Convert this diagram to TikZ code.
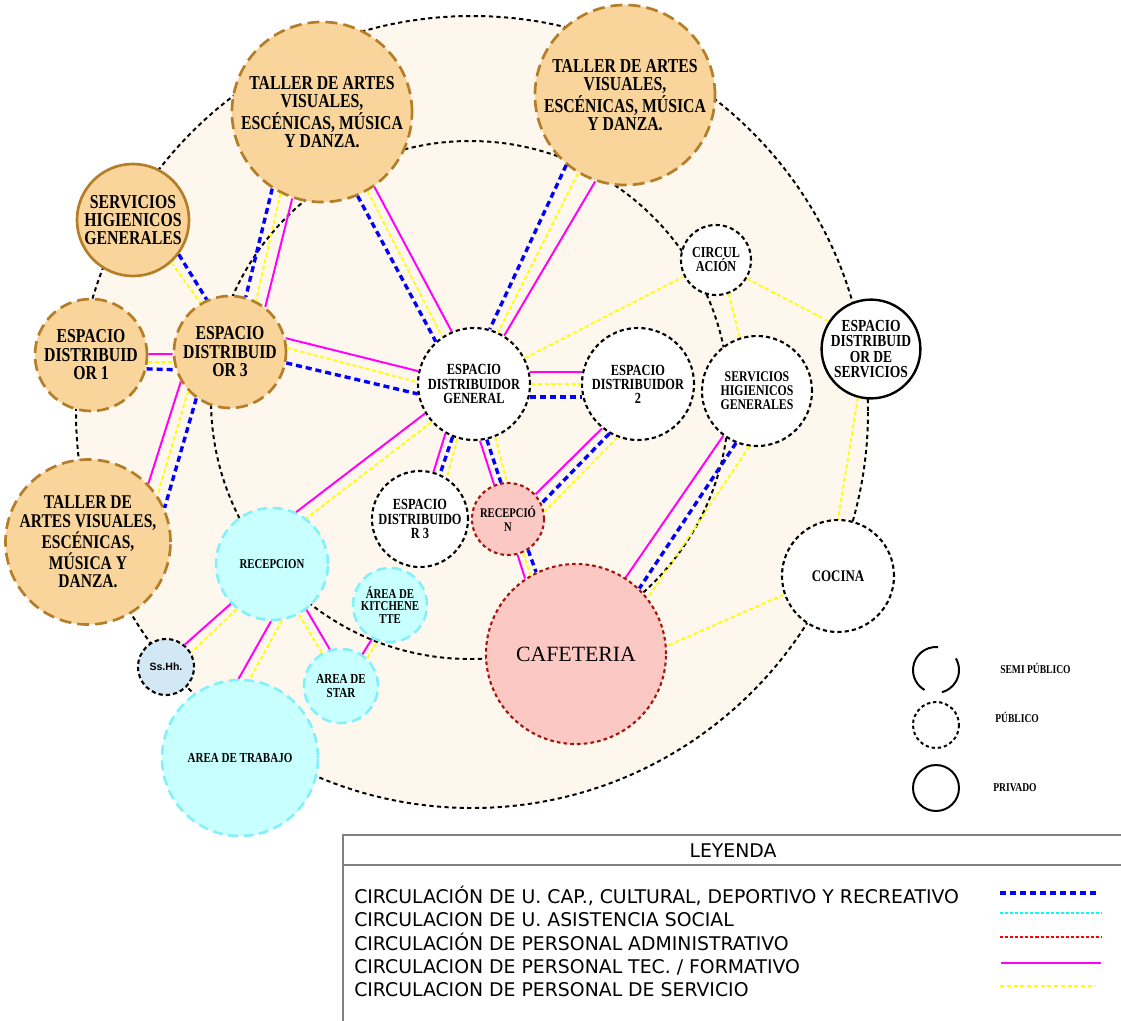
\documentclass[tikz,border=0pt]{standalone}
\usepackage{fontspec}
\setmainfont{Liberation Serif}
\newfontfamily\roomfont[FakeStretch=0.8]{Liberation Serif}
\newfontfamily\legfont{DejaVu Sans}
\newfontfamily\sshfont{Liberation Sans}
\usepackage{tikz}

\definecolor{cream}{RGB}{254,247,237}
\definecolor{peach}{RGB}{250,213,155}
\definecolor{peachline}{RGB}{180,125,40}
\definecolor{aqua}{RGB}{200,255,255}
\definecolor{aqualine}{RGB}{128,240,250}
\definecolor{rose}{RGB}{252,200,196}
\definecolor{roseline}{RGB}{165,20,10}
\definecolor{skyfill}{RGB}{210,232,245}
\definecolor{ucapblue}{RGB}{0,0,255}
\definecolor{tecpink}{RGB}{255,0,255}
\definecolor{servyellow}{RGB}{255,255,0}
\definecolor{asiscyan}{RGB}{0,255,255}
\definecolor{admred}{RGB}{255,0,0}

\tikzset{
  room/.style={circle, inner sep=0pt, align=center, minimum size=#1*0.05cm},
  txt/.style 2 args={font=\roomfont\bfseries\fontsize{#1}{#2}\selectfont},
  taller/.style={room=#1, fill=peach, draw=peachline, line width=1.9pt, dash pattern=on 8.5pt off 4.3pt},
  higien/.style={room=#1, fill=peach, draw=peachline, line width=1.9pt},
  blanco/.style={room=#1, fill=white, draw=black, line width=1.5pt, dash pattern=on 3pt off 2.2pt},
  privado/.style={room=#1, fill=white, draw=black, line width=1.7pt},
  asisc/.style={room=#1, fill=aqua, draw=aqualine, line width=1.8pt, dash pattern=on 7pt off 4pt},
  admc/.style={room=#1, fill=rose, draw=roseline, line width=1.5pt, dash pattern=on 2.6pt off 2.2pt},
  ring/.style={draw=black, line width=1.4pt, dash pattern=on 3pt off 2.4pt},
  lucap/.style={draw=ucapblue, line width=2.4pt, dash pattern=on 4.3pt off 2.8pt},
  lserv/.style={draw=servyellow, line width=1.3pt, dash pattern=on 3pt off 1.8pt},
  ltec/.style={draw=tecpink, line width=1.4pt},
  lasis/.style={draw=asiscyan, line width=1.4pt, dash pattern=on 2.2pt off 1.4pt},
  ladm/.style={draw=admred, line width=1.4pt, dash pattern=on 2.2pt off 1.4pt},
  legtxt/.style={font=\legfont\fontsize{13.4}{15}\selectfont, inner sep=0pt},
  simb/.style={font=\roomfont\bfseries\fontsize{8.5}{10}\selectfont, inner sep=0pt, anchor=base west}
}

\begin{document}
\begin{tikzpicture}[x=0.025cm,y=-0.025cm]
\useasboundingbox (0,0) rectangle (1121,1021);

% rings
\fill[cream] (472,412) circle (396);
\draw[ring] (472,412) circle (396);
\draw[ring] (470,400) circle (259);

% talleres y espacios
\node[taller=90, txt={14}{13.2}] (t1) at (322,112) {TALLER DE ARTES\\VISUALES,\\ESCÉNICAS, MÚSICA\\Y DANZA.};
\node[taller=90, txt={14}{13.2}] (t2) at (625,95) {TALLER DE ARTES\\VISUALES,\\ESCÉNICAS, MÚSICA\\Y DANZA.};
\node[taller=79, txt={13.8}{13.2}] (t3) at (88,542) {TALLER DE\\ARTES VISUALES,\\ESCÉNICAS,\\MÚSICA Y\\DANZA.};
\node[higien=56, txt={14}{13}] (shg1) at (133,220) {SERVICIOS\\HIGIENICOS\\GENERALES};
\node[taller=56, txt={14}{13.2}] (ed1) at (91,355) {ESPACIO\\DISTRIBUID\\OR 1};
\node[taller=56, txt={14}{13.2}] (ed3) at (230,352) {ESPACIO\\DISTRIBUID\\OR 3};

\node[blanco=56, txt={11}{10}] (edg) at (474,384) {ESPACIO\\DISTRIBUIDOR\\GENERAL};
\node[blanco=56, txt={11}{10}] (ed2) at (638,384) {ESPACIO\\DISTRIBUIDOR\\2};
\node[blanco=55, txt={10.5}{10}] (shg2) at (757,391) {SERVICIOS\\HIGIENICOS\\GENERALES};
\node[blanco=35, txt={10.8}{10}] (circ) at (716,260) {CIRCUL\\ACIÓN};
\node[privado=49, txt={12}{11}] (eds) at (871,349) {ESPACIO\\DISTRIBUID\\OR DE\\SERVICIOS};
\node[blanco=48, txt={11}{10}] (edr3) at (420,519) {ESPACIO\\DISTRIBUIDO\\R 3};
\node[blanco=56, txt={11.5}{12}] (coc) at (838,576) {COCINA};

\node[admc=36, txt={9.4}{10}] (rn) at (508,519) {RECEPCIÓ\\N};
\node[admc=90, font=\fontsize{15.5}{18}\selectfont] (caf) at (576,654) {CAFETERIA};

\node[asisc=56, txt={9.6}{10}] (rec) at (272,564) {RECEPCION};
\node[asisc=78, txt={9.8}{10}] (trab) at (240,758) {AREA DE TRABAJO};
\node[asisc=37, txt={9.8}{9.3}] (star) at (341,686) {AREA DE\\STAR};
\node[asisc=37, txt={9.6}{8.9}] (kit) at (390,605) {ÁREA DE\\KITCHENE\\TTE};
\node[room=28, fill=skyfill, draw=black, line width=1.5pt, dash pattern=on 3pt off 2.2pt,
      font=\sshfont\bfseries\fontsize{7.5}{9}\selectfont] (sshh) at (166,667) {Ss.Hh.};

% circulaciones
\draw[lucap] (t1.237) -- (ed3.74);
\draw[lserv] (t1.243) -- (ed3.63);
\draw[ltec] (t1.251) -- (ed3.52);

\draw[lucap] (t1.293) -- (edg.132);
\draw[lserv] (t1.300) -- (edg.124);
\draw[ltec] (t1.305) -- (edg.113);

\draw[lucap] (t2.230) -- (edg.74);
\draw[lserv] (t2.239) -- (edg.65);
\draw[ltec] (t2.251) -- (edg.58);

\draw[ltec] (ed3.14) -- (edg.167);
\draw[lserv] (ed3.4) -- (edg.178);
\draw[lucap] (ed3.349) -- (edg.190);

\draw[lserv] (shg1.312) -- (ed3.121);
\draw[lucap] (shg1.323) -- (ed3.114);

\draw[ltec] (ed1.1) -- (ed3.182);
\draw[lserv] (ed1.353) -- (ed3.190);
\draw[lucap] (ed1.346) -- (ed3.198);

\draw[ltec] (ed3.211) -- (t3.44);
\draw[lserv] (ed3.223) -- (t3.34);
\draw[lucap] (ed3.234) -- (t3.24);

\draw[ltec] (edg.12) -- (ed2.168);
\draw[lserv] (edg.0) -- (ed2.180);
\draw[lucap] (edg.347) -- (ed2.193);

\draw[ltec] (edg.240) -- (edr3.74);
\draw[lucap] (edg.248) -- (edr3.66);
\draw[lserv] (edg.253) -- (edr3.57);

\draw[ltec] (edg.276) -- (rn.112);
\draw[lucap] (edg.283) -- (rn.101);
\draw[lserv] (edg.292) -- (rn.92);

\draw[ltec] (ed2.231) -- (rn.42);
\draw[lucap] (ed2.240) -- (rn.25);
\draw[lserv] (ed2.249) -- (rn.11);

\draw[ltec] (rn.285) -- (caf.124);
\draw[lserv] (rn.294) -- (caf.120);
\draw[lucap] (rn.303) -- (caf.116);

\draw[ltec] (shg2.233) -- (caf.57);
\draw[lucap] (shg2.248) -- (caf.46);
\draw[lserv] (shg2.262) -- (caf.38);

\draw[ltec] (edg.211) -- (rec.65);
\draw[lserv] (edg.222) -- (rec.53);

\draw[lserv] (edg.27) -- (circ.207);
\draw[lserv] (circ.329) -- (eds.147);
\draw[lserv] (circ.291) -- (shg2.108);
\draw[lserv] (eds.255) -- (coc.90);
\draw[lserv] (coc.199) -- (caf.5);

\draw[ltec] (rec.224) -- (sshh.50);
\draw[lserv] (rec.232) -- (sshh.30);
\draw[ltec] (rec.269) -- (trab.91);
\draw[lserv] (rec.280) -- (trab.83);
\draw[lserv] (rec.298) -- (star.120);
\draw[ltec] (rec.307) -- (star.107);
\draw[ltec] (star.56) -- (kit.242);
\draw[lserv] (star.47) -- (kit.251);

% simbologia
\draw[line width=1.4pt] ([shift={(936,670)}]-85:23) arc (-85:-240:23);
\draw[line width=1.4pt] ([shift={(936,670)}]-30:23) arc (-30:75:23);
\draw[line width=1.4pt, dash pattern=on 2.4pt off 2pt] (936,725) circle (23);
\draw[line width=1.4pt] (936,788) circle (23);
\node[simb] (semi) at (1000,673) {SEMI PÚBLICO};
\node[simb] (publico) at (995,722) {PÚBLICO};
\node[simb] (privado) at (993,791) {PRIVADO};

% leyenda
\draw[gray, line width=1.1pt] (343,1030) -- (343,835) -- (1126,835);
\draw[gray, line width=1.1pt] (343,865) -- (1126,865);
\node[legtxt, anchor=base] (leyenda) at (733,857) {LEYENDA};
\node[legtxt, anchor=base west] (c1) at (354,903) {CIRCULACIÓN DE U. CAP., CULTURAL, DEPORTIVO Y RECREATIVO};
\node[legtxt, anchor=base west] (c2) at (354,926) {CIRCULACION DE U. ASISTENCIA SOCIAL};
\node[legtxt, anchor=base west] (c3) at (354,950) {CIRCULACIÓN DE PERSONAL ADMINISTRATIVO};
\node[legtxt, anchor=base west] (c4) at (354,973) {CIRCULACION DE PERSONAL TEC. / FORMATIVO};
\node[legtxt, anchor=base west] (c5) at (354,996) {CIRCULACION DE PERSONAL DE SERVICIO};
\draw[lucap] (1000,893) -- (1097,893);
\draw[lasis] (1000,913) -- (1102,913);
\draw[ladm] (1000,937) -- (1102,937);
\draw[ltec, line width=2pt] (1001,963) -- (1101,963);
\draw[lserv] (1000,986) -- (1095,986);

\end{tikzpicture}
\end{document}
